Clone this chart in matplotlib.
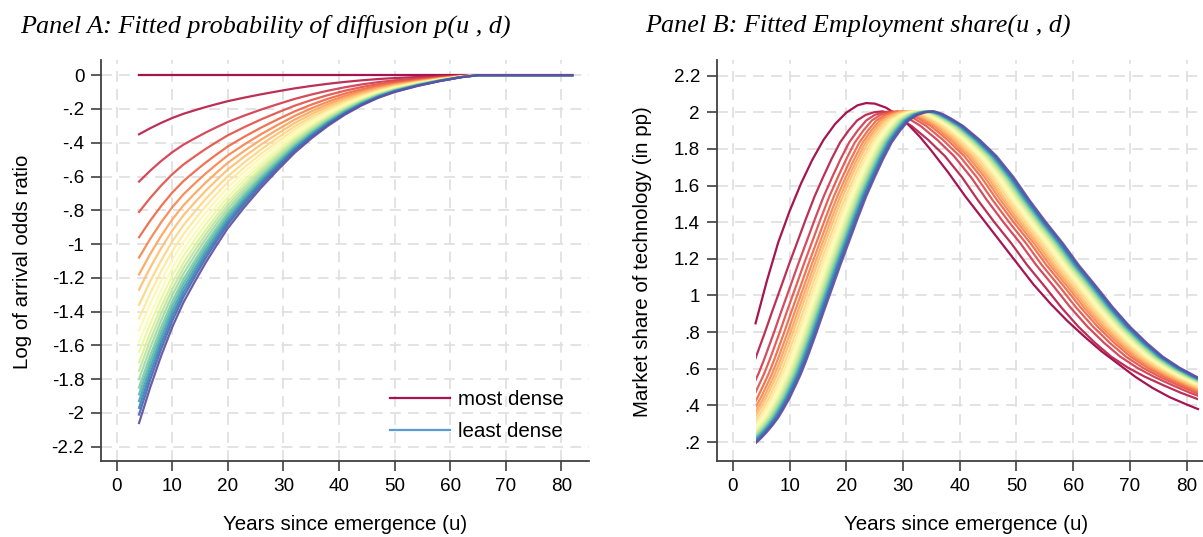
import numpy as np
import matplotlib
matplotlib.use("Agg")
import matplotlib.pyplot as plt
from matplotlib.lines import Line2D
from matplotlib.patches import Rectangle

plt.rcParams['font.family'] = ['Liberation Sans', 'DejaVu Sans']

# Panel A: log of arrival odds ratio, least dense curve
odds_u = [4, 6, 8, 10, 12, 14, 16, 18, 20, 23, 26, 29, 32, 35, 38, 41, 44, 47,
          50, 54, 58, 62, 65, 82]
odds_least_dense = [-2.06, -1.85, -1.66, -1.49, -1.345, -1.225, -1.11, -1.005,
                    -0.905, -0.78, -0.665, -0.56, -0.46, -0.375, -0.30, -0.235,
                    -0.18, -0.135, -0.10, -0.065, -0.036, -0.012, 0, 0]
# value at u = 4 for each density group, most dense first
odds_start = [0, -0.35, -0.63, -0.81, -0.96, -1.08, -1.18, -1.27, -1.36, -1.44,
              -1.51, -1.58, -1.64, -1.70, -1.75, -1.80, -1.85, -1.89, -1.93,
              -1.97, -2.01, -2.06]

# Panel B: market share, most dense curve
share_u_dense = [4, 6, 8, 10, 12, 14, 16, 18, 20, 22, 23.5, 25, 27, 29, 31, 33,
                 35, 38, 41, 44, 47, 50, 53, 56, 59, 62, 65, 68, 71, 74, 77,
                 80, 82]
share_dense = [0.848, 1.08, 1.29, 1.46, 1.61, 1.74, 1.85, 1.935, 1.998, 2.038,
               2.05, 2.047, 2.025, 1.985, 1.93, 1.865, 1.79, 1.67, 1.54, 1.42,
               1.30, 1.18, 1.06, 0.955, 0.86, 0.775, 0.695, 0.625, 0.555, 0.495,
               0.445, 0.405, 0.38]
# least dense curve (years since emergence, run on past 82)
share_tau = [4, 5, 6, 7, 8, 9, 10, 11, 12, 13, 14.7, 16, 17.6, 19, 20.6, 22,
             23.5, 25, 26.5, 28, 29.5, 31, 32.5, 34, 35.5, 37, 38.5, 40.6, 43.5,
             46.5, 49.5, 52.3, 55.2, 58.2, 61, 64.1, 67, 70, 73, 75.8, 78.8,
             81.7, 85, 88, 91, 94]
share_least_dense = [0.193, 0.222, 0.255, 0.292, 0.333, 0.385, 0.44, 0.505,
                     0.572, 0.65, 0.794, 0.91, 1.048, 1.17, 1.303, 1.42, 1.54,
                     1.645, 1.745, 1.835, 1.90, 1.955, 1.985, 2.0, 2.005, 1.99,
                     1.965, 1.925, 1.85, 1.76, 1.645, 1.52, 1.40, 1.284, 1.165,
                     1.048, 0.935, 0.83, 0.74, 0.666, 0.605, 0.557, 0.51, 0.47,
                     0.435, 0.40]
# years each other group runs ahead of the least dense one
share_lead = [9.1, 7.5, 6.5, 5.7, 5.1, 4.6, 4.15, 3.65, 3.2, 2.85, 2.5, 2.15,
              1.85, 1.55, 1.3, 1.05, 0.85, 0.65, 0.45, 0.25, 0]

u_first, u_last = 4, 82
legend_labels = ['most dense', 'least dense']

W, H = 1203, 537
fig = plt.figure(figsize=(W / 100, H / 100), dpi=100)


def px_axes(x0, y0, x1, y1):
    return fig.add_axes([x0 / W, 1 - y1 / H, (x1 - x0) / W, (y1 - y0) / H])


def stata(v):
    s = f"{v + 0.0:.1f}".rstrip('0').rstrip('.')
    if s.startswith('0.'):
        s = s[1:]
    elif s.startswith('-0.'):
        s = '-' + s[2:]
    return s


def style(ax, yticks, ylim):
    ax.set_xlim(-2.85, 85)
    ax.set_ylim(*ylim)
    ax.set_xticks(range(0, 81, 10))
    ax.set_yticks(yticks)
    ax.set_yticklabels([stata(v) for v in yticks])
    for s in ['top', 'right']:
        ax.spines[s].set_visible(False)
    for s in ['left', 'bottom']:
        ax.spines[s].set_color('#404040')
        ax.spines[s].set_linewidth(1.3)
    ax.tick_params(length=7, width=1.2, color='#404040', labelsize=13.6, pad=5)
    ax.grid(True, color='#e0e0e0', lw=1.3, ls=(0, (6, 4)))
    ax.set_axisbelow(True)


n = len(odds_start)
colors = plt.get_cmap('Spectral')(np.linspace(0, 1, n))

axA = px_axes(101, 60, 589, 461)
axB = px_axes(716.7, 60, 1215, 461)

# panel A
for k, s in enumerate(odds_start):
    y = np.array(odds_least_dense) * s / odds_start[-1]
    axA.plot(odds_u, y, color=colors[k], lw=1.6, alpha=0.92)

style(axA, np.round(np.arange(-2.2, 0.01, 0.2), 1), (-2.285, 0.09))
handles = [Line2D([], [], color=colors[0], lw=1.6, alpha=0.92),
           Line2D([], [], color='#5b9bd5', lw=1.6)]
axA.legend(handles, legend_labels, loc='upper left', bbox_to_anchor=(0.592, 0.176),
           frameon=False, fontsize=14.8, handlelength=2.9, handletextpad=0.4,
           labelspacing=0.6, borderpad=0, borderaxespad=0)

# panel B
axB.plot(share_u_dense, share_dense, color=colors[0], lw=1.6, alpha=0.92)
clip = Rectangle((u_first, -1), u_last - u_first, 5, transform=axB.transData)
for k, lead in enumerate(share_lead, start=1):
    line, = axB.plot(np.array(share_tau) - lead, share_least_dense,
                     color=colors[k], lw=1.6, alpha=0.92)
    line.set_clip_path(clip)

style(axB, np.round(np.arange(0.2, 2.21, 0.2), 1), (0.0966, 2.285))

# titles and axis labels
title_kw = dict(family='Liberation Serif', style='italic', fontsize=18.8, va='baseline')
fig.text(20 / W, 1 - 33 / H, 'Panel A: Fitted probability of diffusion p(u , d)', **title_kw)
fig.text(645 / W, 1 - 33 / H, 'Panel B: Fitted Employment share(u , d)', **title_kw)

lab_kw = dict(fontsize=14.8, ha='center', va='center')
fig.text(23 / W, 1 - 262 / H, 'Log of arrival odds ratio', rotation=90, **lab_kw)
fig.text(643 / W, 1 - 262 / H, 'Market share of technology (in pp)', rotation=90, **lab_kw)
fig.text(345 / W, 1 - 524 / H, 'Years since emergence (u)', **lab_kw)
fig.text(966 / W, 1 - 524 / H, 'Years since emergence (u)', **lab_kw)

fig.savefig('out.png', dpi=100)
